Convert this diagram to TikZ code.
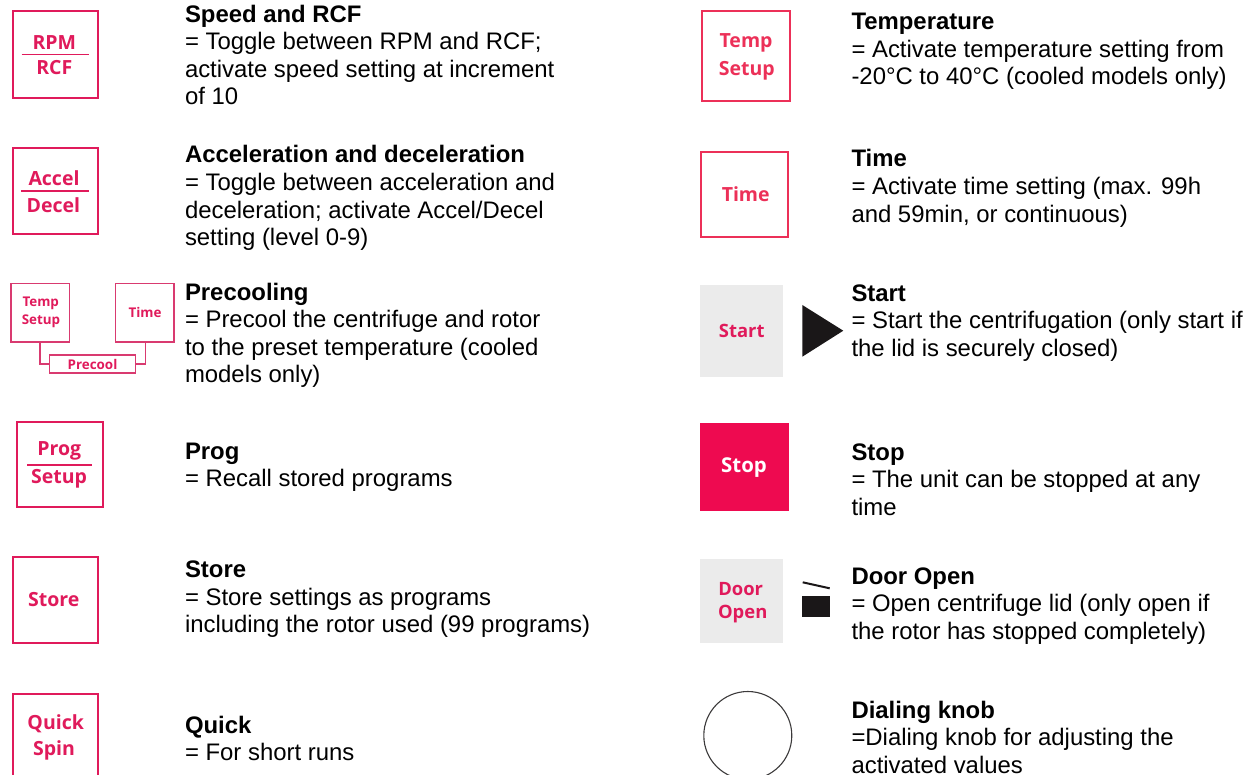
\documentclass[tikz,border=0pt]{standalone}
\usepackage{fontspec}
\setmainfont{Liberation Sans}
\newfontfamily\btnfont{Open Sans}
\definecolor{pk}{HTML}{E01A5B}
\definecolor{pl}{HTML}{EC3058}
\definecolor{pm}{HTML}{D93A70}
\definecolor{stopred}{HTML}{EE0A50}
\definecolor{gr}{HTML}{EBEBEB}
\definecolor{ink}{HTML}{1A1718}
\newcommand{\ttl}[1]{\rule{0pt}{18pt}\textbf{#1}}
\tikzset{
 desc/.style={anchor=north west,inner sep=0pt,outer sep=0pt,align=left,font=\fontsize{23.9}{27.55}\selectfont,text=black},
 btn/.style={draw=pk,line width=1.9pt,fill=white,minimum width=85.5pt,minimum height=86.5pt,inner sep=0pt,outer sep=0pt,anchor=north west},
 small/.style={draw=pm,line width=1.4pt,fill=white,minimum width=58.5pt,minimum height=58.5pt,inner sep=0pt,outer sep=0pt,anchor=north west},
 lab/.style={text=pk,inner sep=0pt,font=\btnfont\bfseries\fontsize{19.5}{19.5}\selectfont},
 labs/.style={text=pk,inner sep=0pt,font=\btnfont\bfseries\fontsize{18.4}{18.4}\selectfont},
 slab/.style={text=pk,inner sep=0pt,font=\btnfont\bfseries\fontsize{13.4}{13.4}\selectfont},
 sep/.style={draw=pk,line width=1.6pt},
 conn/.style={draw=pm,line width=1.2pt},
 plain/.style={inner sep=0pt,outer sep=0pt,anchor=north west},
}
\begin{document}
\begin{tikzpicture}[x=1pt,y=-1pt]
\useasboundingbox (0,0) rectangle (1249,775);
\clip (0,0) rectangle (1249,775);
% left column buttons
\node[btn] (rpm) at (12.6,11.2) {};
\node[lab] (rpmt) at (54.3,42.3) {RPM};
\node[lab] (rcft) at (54.3,67.7) {RCF};
\draw[sep] (21.7,54.7)--(89.3,54.7);
\node[btn] (accel) at (12.6,147.6) {};
\node[lab] (accelt) at (54,177.7) {Accel};
\node[lab] (decelt) at (53.3,204.7) {Decel};
\draw[sep] (21.3,191)--(88.7,191);
\node[small] (tempS) at (11,283.4) {};
\node[slab] at (40.7,303.7) {Temp};
\node[slab] at (41,321.7) {Setup};
\node[small] (timeS) at (115.4,283.4) {};
\node[slab] at (145,312.7) {Time};
\node[draw=pm,line width=1.4pt,minimum width=86pt,minimum height=18pt,inner sep=0pt,outer sep=0pt,anchor=north west] (pre) at (49.6,355) {};
\node[slab] at (92.5,364.3) {Precool};
\draw[conn] (tempS.south -| 40,0) |- (pre.west);
\draw[conn] (timeS.south -| 145.7,0) |- (pre.east);
\node[btn,minimum width=86pt,minimum height=85.5pt] (prog) at (17,421.7) {};
\node[lab] at (59.3,450.7) {Prog};
\node[lab] at (59,479) {Setup};
\draw[sep] (27.3,465)--(92.3,465);
\node[btn] (store) at (12.6,556.6) {};
\node[lab] at (53.7,599.3) {Store};
\node[btn,minimum height=110pt] (quick) at (12.6,693.6) {};
\node[lab] at (55.7,723.3) {Quick};
\node[lab] at (54,750) {Spin};
% left text
\node[desc] at (185,4.2) {\ttl{Speed and RCF}\\= Toggle between RPM and RCF;\\activate speed setting at increment\\of 10};
\node[desc] at (185,145) {\ttl{Acceleration and deceleration}\\= Toggle between acceleration and\\deceleration; activate Accel/Decel\\setting (level 0-9)};
\node[desc] at (185,282) {\ttl{Precooling}\\= Precool the centrifuge and rotor\\to the preset temperature (cooled\\models only)};
\node[desc] at (185,441) {\ttl{Prog}\\= Recall stored programs};
\node[desc] at (185,559.7) {\ttl{Store}\\= Store settings as programs\\including the rotor used (99 programs)};
\node[desc] at (185,715) {\ttl{Quick}\\= For short runs};
% right column buttons
\node[btn,draw=pl,minimum width=88pt,minimum height=90pt] (temp) at (701.6,11.3) {};
\node[lab,text=pl] at (746,43) {Temp};
\node[lab,text=pl] at (746.7,71) {Setup};
\node[btn,draw=pl,minimum width=87pt,minimum height=85pt] (time) at (701.3,151.7) {};
\node[lab,text=pl] at (745.7,194) {Time};
\node[plain,fill=gr,minimum width=83.3pt,minimum height=91.7pt] (start) at (700,285) {};
\node[labs] at (741.7,330.7) {Start};
\fill[ink] (802.3,305)--(843.3,330.7)--(802.3,356.7)--cycle;
\node[plain,fill=stopred,minimum width=89.3pt,minimum height=88pt] (stop) at (700,423.3) {};
\node[lab,text=white,font=\btnfont\bfseries\fontsize{20.4}{20.4}\selectfont] at (744,467.3) {Stop};
\node[plain,fill=gr,minimum width=83.3pt,minimum height=84pt] (door) at (700,559.3) {};
\node[labs] at (740.7,589.3) {Door};
\node[labs] at (742.7,614.3) {Open};
\draw[ink,line width=2pt] (802.7,582.3)--(829.7,588.3);
\fill[ink] (802.3,596) rectangle (829.7,616.7);
\node[draw=ink!85,line width=1.1pt,circle,minimum size=88pt,inner sep=0pt,outer sep=0pt] (knob) at (747.8,735.5) {};
% right text
\node[desc] at (851.5,11.7) {\ttl{Temperature}\\= Activate temperature setting from\\-20°C to 40°C (cooled models only)};
\node[desc] at (851.5,149) {\ttl{Time}\\= Activate time setting (max. 99h\\and 59min, or continuous)};
\node[desc] at (851.5,283) {\ttl{Start}\\= Start the centrifugation (only start if\\the lid is securely closed)};
\node[desc] at (851.5,442) {\ttl{Stop}\\= The unit can be stopped at any\\time};
\node[desc] at (851.5,566) {\ttl{Door Open}\\= Open centrifuge lid (only open if\\the rotor has stopped completely)};
\node[desc] at (851.5,700) {\ttl{Dialing knob}\\=Dialing knob for adjusting the\\activated values};
\end{tikzpicture}
\end{document}
